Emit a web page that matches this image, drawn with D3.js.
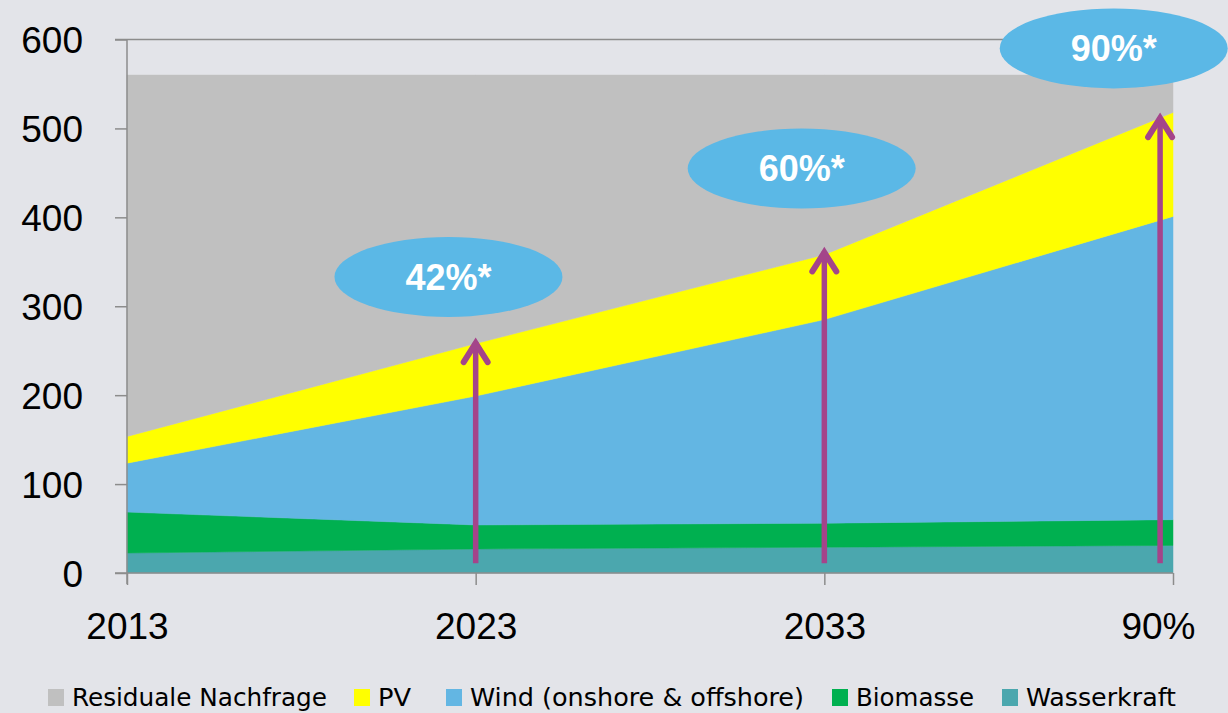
<!DOCTYPE html>
<html>
<head>
<meta charset="utf-8">
<script src="https://cdn.jsdelivr.net/npm/d3@7"></script>
<style>
  html, body { margin: 0; padding: 0; background: #E3E4E9; }
  svg { display: block; }
</style>
</head>
<body>
<svg id="chart" width="1228" height="713"></svg>
<script>
// ---- data ----
const categories = ["2013", "2023", "2033", "90%"];
const seriesNames = ["Wasserkraft", "Biomasse", "Wind (onshore & offshore)", "PV", "Residuale Nachfrage"];
const wasserkraft = [22.5, 27, 29, 31];
const biomasse = [46, 27, 27, 29];
const wind = [55, 145, 229, 341];
const pv = [30, 59, 73, 117];
const residual = [406.5, 302, 202, 42];
const yTicks = [0, 100, 200, 300, 400, 500, 600];
const legendOrder = ["Residuale Nachfrage", "PV", "Wind (onshore & offshore)", "Biomasse", "Wasserkraft"];
// annotations: share labels, arrows (x in category index units, y in data units)
const shareLabels = ["42%*", "60%*", "90%*"];
const labelX = [0.922, 1.935, 2.83];
const labelY = [333, 455, 590];
const arrowX = [1.0, 2.0, 2.963];
const arrowTop = [263, 365, 516];
const arrowBase = 11;

// ---- styles ----
const colors = {
  "Residuale Nachfrage": "#C0C0C0",
  "PV": "#FFFF00",
  "Wind (onshore & offshore)": "#63B6E3",
  "Biomasse": "#00B050",
  "Wasserkraft": "#4BA7AE"
};

const svg = d3.select("#chart");
const x = d3.scaleLinear().domain([0, categories.length - 1]).range([127, 1173]);
const y = d3.scaleLinear().domain([0, 600]).range([573, 39.5]);

const table = categories.map((c, i) => ({
  i: i,
  "Wasserkraft": wasserkraft[i],
  "Biomasse": biomasse[i],
  "Wind (onshore & offshore)": wind[i],
  "PV": pv[i],
  "Residuale Nachfrage": residual[i]
}));
const stacked = d3.stack().keys(seriesNames)(table);

const area = d3.area()
  .x(d => x(d.data.i))
  .y0(d => y(d[0]))
  .y1(d => y(d[1]));

svg.append("g").selectAll("path")
  .data(stacked)
  .join("path")
  .attr("d", area)
  .attr("fill", d => colors[d.key])
  .attr("stroke", d => colors[d.key])
  .attr("stroke-width", 0.5);

// top gridline at max
svg.append("line")
  .attr("x1", 115).attr("x2", x(categories.length - 1))
  .attr("y1", y(600)).attr("y2", y(600))
  .attr("stroke", "#8C8C8C").attr("stroke-width", 1.5);

// y axis
const yAxis = d3.axisLeft(y).tickValues(yTicks).tickSize(12).tickPadding(32);
const gy = svg.append("g").attr("transform", "translate(127,0)").call(yAxis);
gy.select(".domain").attr("stroke", "#8C8C8C").attr("stroke-width", 1.5)
  .attr("d", `M0,${y(600)}V${y(0) + 11}`);
gy.selectAll(".tick line").attr("stroke", "#8C8C8C").attr("stroke-width", 1.5);
gy.selectAll(".tick text")
  .attr("font-family", "'Liberation Sans', Arial, sans-serif")
  .attr("font-size", 37).attr("fill", "#000").attr("dy", "0.36em");

// x axis
const xAxis = d3.axisBottom(x).tickValues(d3.range(categories.length))
  .tickFormat(i => categories[i]).tickSize(12).tickPadding(28);
const gx = svg.append("g").attr("transform", `translate(0,${y(0)})`).call(xAxis);
gx.select(".domain").attr("stroke", "#8C8C8C").attr("stroke-width", 1.5)
  .attr("d", `M115,0H${x(categories.length - 1)}`);
gx.selectAll(".tick line").attr("stroke", "#8C8C8C").attr("stroke-width", 1.5);
gx.selectAll(".tick text")
  .attr("font-family", "'Liberation Sans', Arial, sans-serif")
  .attr("font-size", 37).attr("fill", "#000")
  .attr("dx", (d, i) => i === categories.length - 1 ? -15 : 0);

// arrows
const arrowColor = "#A4448A";
const ag = svg.append("g");
arrowX.forEach((ax, k) => {
  const px = x(ax), top = y(arrowTop[k]), bot = y(arrowBase);
  ag.append("line")
    .attr("x1", px).attr("x2", px).attr("y1", bot).attr("y2", top + 3)
    .attr("stroke", arrowColor).attr("stroke-width", 5.5);
  ag.append("path")
    .attr("d", `M${px - 12},${top + 23}L${px},${top + 4}L${px + 12},${top + 23}`)
    .attr("fill", "none").attr("stroke", arrowColor).attr("stroke-width", 6)
    .attr("stroke-linecap", "round").attr("stroke-linejoin", "miter");
});

// share ellipses
const eg = svg.append("g");
shareLabels.forEach((t, k) => {
  const cx = x(labelX[k]), cy = y(labelY[k]);
  eg.append("ellipse")
    .attr("cx", cx).attr("cy", cy).attr("rx", 114).attr("ry", 40)
    .attr("fill", "#5BB8E6");
  eg.append("text")
    .attr("x", cx).attr("y", cy).attr("dy", "0.36em")
    .attr("text-anchor", "middle")
    .attr("font-family", "'Liberation Sans', Arial, sans-serif")
    .attr("font-weight", "bold").attr("font-size", 36).attr("fill", "#FFFFFF")
    .text(t);
});

// legend
const legendX = [48, 354, 446, 832, 1002];
const legendTextW = [255, 33, 334, 118, 150];
const lg = svg.append("g");
legendOrder.forEach((name, k) => {
  lg.append("rect")
    .attr("x", legendX[k]).attr("y", 689).attr("width", 16).attr("height", 17)
    .attr("fill", colors[name]);
  lg.append("text")
    .attr("x", legendX[k] + 24).attr("y", 706)
    .attr("font-family", "'Liberation Sans Narrow', 'DejaVu Sans Condensed', 'Liberation Sans', sans-serif")
    .attr("font-size", 25).attr("fill", "#000")
    .attr("textLength", legendTextW[k]).attr("lengthAdjust", "spacingAndGlyphs")
    .text(name);
});
</script>
</body>
</html>
